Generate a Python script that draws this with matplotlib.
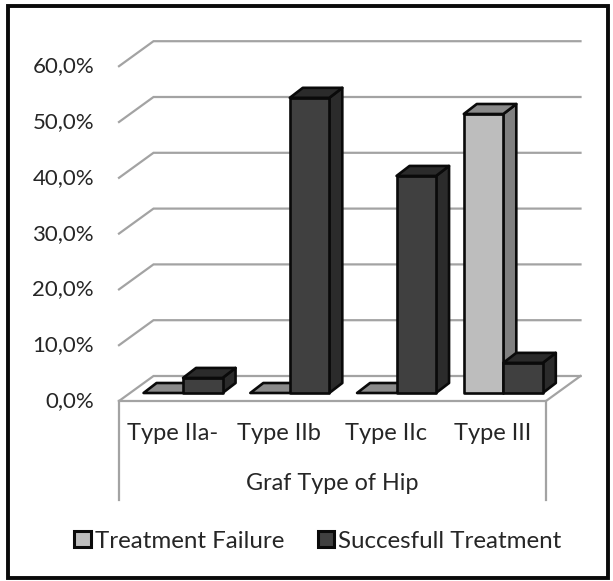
import numpy as np
import matplotlib
matplotlib.use('Agg')
import matplotlib.pyplot as plt
from matplotlib.patches import Patch, Rectangle

plt.rcParams['font.family'] = ['Lato', 'DejaVu Sans']

categories = ['Type IIa-', 'Type IIb', 'Type IIc', 'Type III']
failure = [0.0, 0.0, 0.0, 50.0]
success = [2.7, 52.9, 38.9, 5.4]
y_ticks = [0, 10, 20, 30, 40, 50, 60]
y_labels = ['0,0%', '10,0%', '20,0%', '30,0%', '40,0%', '50,0%', '60,0%']
axis_title = 'Graf Type of Hip'
series_names = ['Treatment Failure', 'Succesfull Treatment']

# pixels per data unit, everything below is laid out in data units
PX_X = 106.75
PX_Y = 5.58
W, H = 613, 581
X0, Y0 = 119, 393

fig = plt.figure(figsize=(W / 100, H / 100), dpi=100)
ax = fig.add_axes([0, 0, 1, 1])
ax.set_xlim(-X0 / PX_X, (W - X0) / PX_X)
ax.set_ylim((Y0 - H) / PX_Y, Y0 / PX_Y)
ax.axis('off')

GRID = '#a3a3a3'
TEXT = '#262626'

# fake 3d: wall sits behind the floor front edge
front_y = -8 / PX_Y
wall_dx = 34.5 / PX_X
wall_dy = 25 / PX_Y
n = len(categories)

for v in y_ticks:
    yb = v + front_y + wall_dy
    ax.plot([0, wall_dx, n + wall_dx], [v + front_y, yb, yb], color=GRID, lw=1.6,
            zorder=1, solid_joinstyle='miter')
ax.plot([0, n, n + wall_dx], [front_y, front_y, front_y + wall_dy], color=GRID, lw=1.6, zorder=1)
drop = front_y - 99 / PX_Y
ax.plot([0, 0], [front_y, drop], color=GRID, lw=1.6, zorder=1)
ax.plot([n, n], [front_y, drop], color=GRID, lw=1.6, zorder=1)


def draw_bar(x, w, val, front, side, top, z):
    dx = 13 / PX_X
    dy = 10 / PX_Y
    ec = {'edgecolor': '#0a0a0a', 'linewidth': 1.9, 'joinstyle': 'round'}
    if val > 0:
        ax.fill([x + w, x + w + dx, x + w + dx, x + w], [0, dy, val + dy, val], facecolor=side, zorder=z, **ec)
        ax.bar(x, val, w, align='edge', color=front, zorder=z, **ec)
    ax.fill([x, x + dx, x + w + dx, x + w], [val, val + dy, val + dy, val], facecolor=top, zorder=z, **ec)


bar_w = 0.37
centers = np.arange(n) + 0.6
for i in range(n):
    draw_bar(centers[i] - bar_w, bar_w, failure[i], '#bdbdbd', '#808080', '#8a8a8a', 3)
    draw_bar(centers[i], bar_w, success[i], '#404040', '#2b2b2b', '#2b2b2b', 4)

for v, lab in zip(y_ticks, y_labels):
    ax.text(94 / PX_X - X0 / PX_X, v + (Y0 - 401) / PX_Y, lab, ha='right', va='center',
            fontsize=16, color=TEXT)
for i, lab in enumerate(categories):
    ax.text(i + 0.5, (Y0 - 434) / PX_Y, lab, ha='center', va='center', fontsize=17, color=TEXT)
ax.text(n / 2, (Y0 - 484) / PX_Y, axis_title, ha='center', va='center', fontsize=16.8, color=TEXT)

handles = [Patch(facecolor='#bdbdbd', edgecolor='#0a0a0a', linewidth=2.2),
           Patch(facecolor='#404040', edgecolor='#0a0a0a', linewidth=2.2)]
leg = ax.legend(handles, series_names, ncol=2, frameon=False, fontsize=17.4, labelcolor=TEXT,
                loc='center', bbox_to_anchor=(318 / W, 1 - 541 / H), handlelength=0.68, handleheight=0.68,
                handletextpad=0.18, columnspacing=1.37)

# outer frame
ax.add_patch(Rectangle((8 / W, 1 - 578 / H), 600 / W, 572 / H, transform=ax.transAxes, fill=False,
                       edgecolor='#0a0a0a', linewidth=2.8, zorder=6, clip_on=False))

fig.savefig('out.png', dpi=100, facecolor='white')
